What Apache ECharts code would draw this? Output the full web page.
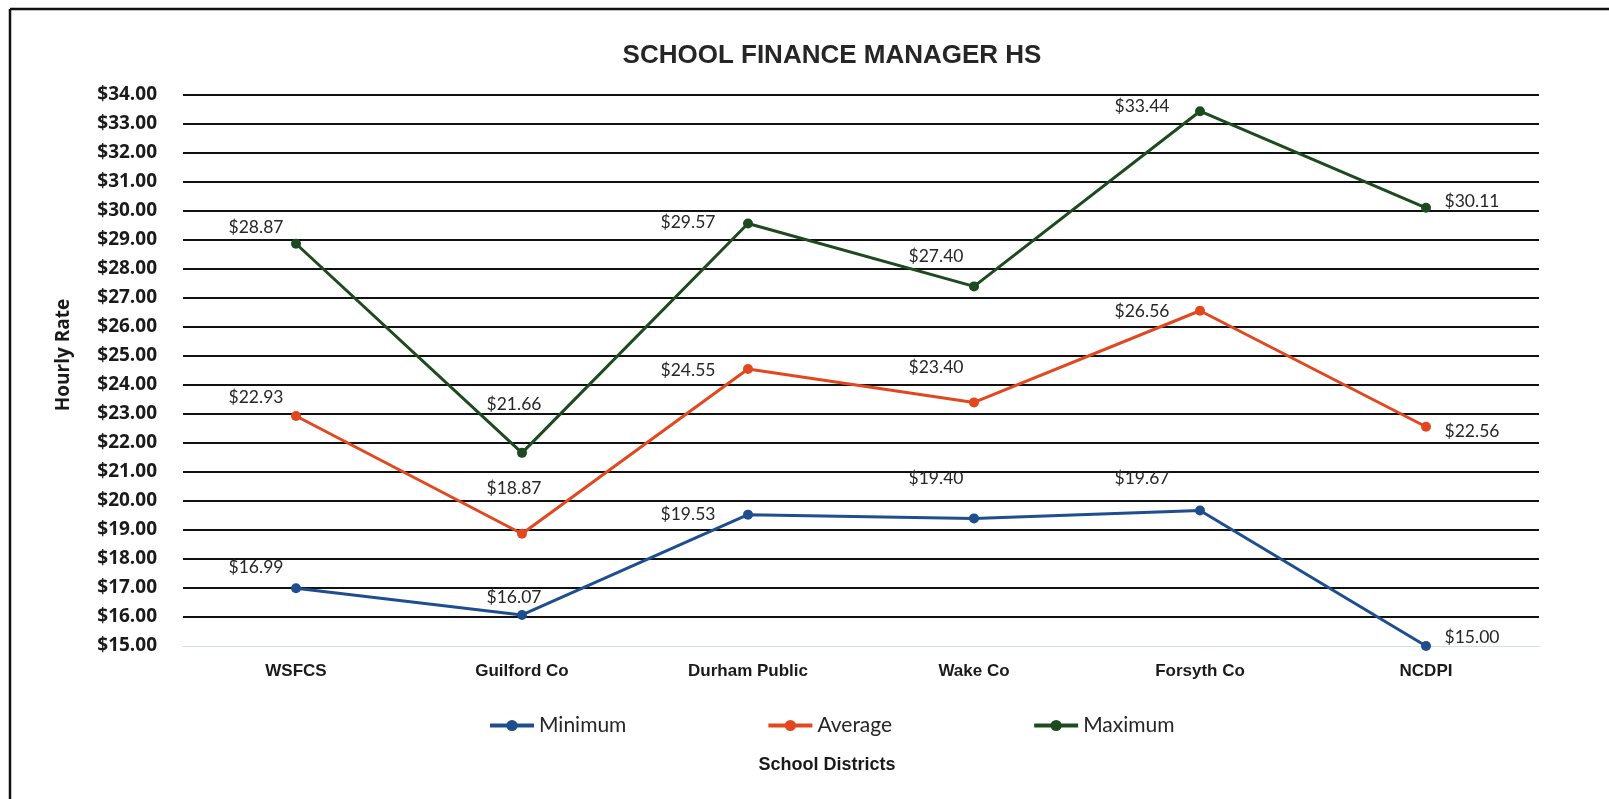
<!DOCTYPE html>
<html>
<head>
<meta charset="utf-8">
<script src="https://cdn.jsdelivr.net/npm/echarts@6/dist/echarts.min.js"></script>
<style>
html,body{margin:0;padding:0;background:#fff;}
#chart{width:1609px;height:799px;}
</style>
</head>
<body>
<div id="chart"></div>
<script>
const categories = ['WSFCS', 'Guilford Co', 'Durham Public', 'Wake Co', 'Forsyth Co', 'NCDPI'];
const minimum = [16.99, 16.07, 19.53, 19.40, 19.67, 15.00];
const average = [22.93, 18.87, 24.55, 23.40, 26.56, 22.56];
const maximum = [28.87, 21.66, 29.57, 27.40, 33.44, 30.11];
const yTicks = {min: 15, max: 34, interval: 1};

// label offsets (style only)
const minOffsets = [[-40,-21],[-8,-18],[-60,0],[-38,-40],[-58,-32],[46,-9]];
const avgOffsets = [[-40,-19],[-8,-45],[-60,1],[-38,-35],[-58,1],[46,5]];
const maxOffsets = [[-40,-16],[-8,-49],[-60,-1],[-38,-30],[-58,-5],[46,-6]];

function fmt(v){ return '$' + v.toFixed(2); }

function mkSeries(name, values, color, offsets){
  return {
    name: name,
    type: 'line',
    data: values.map((v,i)=>({value:v, label:{offset:offsets[i]}})),
    symbol: 'circle',
    symbolSize: 10,
    lineStyle: {color: color, width: 3},
    itemStyle: {color: color},
    label: {
      show: true,
      position: 'inside',
      formatter: p => fmt(p.value),
      fontFamily: 'Lato',
      fontSize: 17.5,
      color: '#262626'
    },
    z: 3
  };
}

const chart = echarts.init(document.getElementById('chart'));
chart.setOption({
  animation: false,
  backgroundColor: '#fff',
  title: {
    text: 'SCHOOL FINANCE MANAGER HS',
    left: 827,
    textAlign: 'center',
    top: 38,
    textStyle: {fontFamily: 'Liberation Sans', fontWeight: 'bold', fontSize: 26, color: '#262626'}
  },
  grid: {left: 183, right: 70, top: 95, bottom: 153},
  legend: {
    left: 483,
    top: 710,
    itemGap: 140,
    itemWidth: 44,
    itemHeight: 14,
    lineStyle: {width: 4},
    textStyle: {fontFamily: 'Lato', fontSize: 21, color: '#262626'},
    data: ['Minimum', 'Average', 'Maximum']
  },
  xAxis: {
    type: 'category',
    data: categories,
    boundaryGap: true,
    axisLine: {show: true, lineStyle: {color: '#d5dde8', width: 1}},
    axisTick: {show: false},
    axisLabel: {
      margin: 17,
      fontFamily: 'Liberation Sans',
      fontWeight: 'bold',
      fontSize: 17,
      color: '#1a1a1a'
    }
  },
  yAxis: {
    type: 'value',
    min: yTicks.min,
    max: yTicks.max,
    interval: yTicks.interval,
    axisLine: {show: false},
    axisTick: {show: false},
    axisLabel: {
      margin: 26,
      formatter: v => fmt(v),
      fontFamily: 'Open Sans',
      fontWeight: 'bold',
      fontSize: 19,
      color: '#1a1a1a'
    },
    splitLine: {show: true, showMinLine: false, lineStyle: {color: '#111', width: 2}}
  },
  graphic: [
    {type: 'line', shape: {x1: 10, y1: 9, x2: 1609, y2: 9}, style: {stroke: '#111', lineWidth: 2.5}, silent: true},
    {type: 'line', shape: {x1: 10, y1: 9, x2: 10, y2: 799}, style: {stroke: '#111', lineWidth: 2.5}, silent: true},
    {type: 'text', x: 827, y: 765,
      style: {text: 'School Districts', font: 'bold 18px "Liberation Sans"', fill: '#1a1a1a', align: 'center', verticalAlign: 'middle'}},
    {type: 'text', x: 64, y: 355, rotation: Math.PI/2,
      style: {text: 'Hourly Rate', font: 'bold 19px "Open Sans"', fill: '#1a1a1a', align: 'center', verticalAlign: 'middle'}}
  ],
  series: [
    mkSeries('Minimum', minimum, '#1f4e8f', minOffsets),
    mkSeries('Average', average, '#e2481f', avgOffsets),
    mkSeries('Maximum', maximum, '#1d4a1e', maxOffsets)
  ]
});
</script>
</body>
</html>
